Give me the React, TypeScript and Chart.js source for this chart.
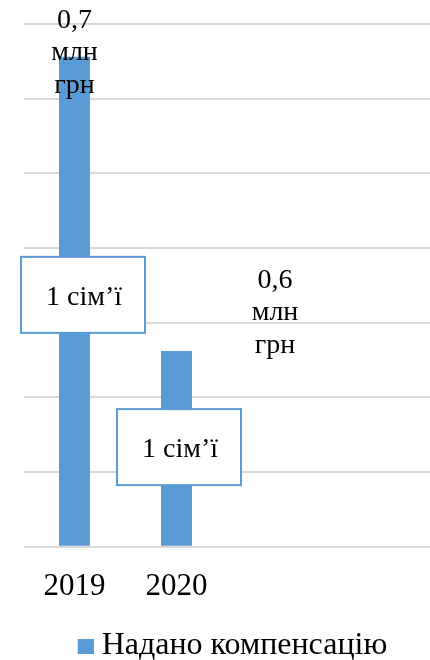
import React, { useEffect, useRef } from 'react';
import { Chart, registerables } from 'chart.js';

Chart.register(...registerables);

const categories = ['2019', '2020', '', ''];
const compensationValues = [0.656, 0.262, null, null];
const amountLabels = [
  ['0,7', 'млн', 'грн'],
  ['0,6', 'млн', 'грн'],
];
const familyLabels = ['1 сім’ї', '1 сім’ї'];
const seriesName = 'Надано компенсацію';
const yMin = 0;
const yMax = 0.7;
const yStep = 0.1;

const FONT = '"Liberation Serif", "DejaVu Serif", "Times New Roman", serif';
const BLUE = '#5b9bd5';

const labelPlugin = {
  id: 'customLabels',
  afterDatasetsDraw(chart: any) {
    const ctx = chart.ctx as CanvasRenderingContext2D;
    const meta = chart.getDatasetMeta(0);
    const amountOffsets = [
      { dx: 0, dy: -36.5 },
      { dx: 98.5, dy: -70.5 },
    ];
    const boxOffsets = [
      { dx: 8.5, dy: 238 },
      { dx: 2.5, dy: 96 },
    ];
    const boxW = 124;
    const boxH = 76;
    const lineGap = 32.5;
    ctx.save();
    familyLabels.forEach((text, i) => {
      const el = meta.data[i];
      if (!el) return;
      const cx = el.x + boxOffsets[i].dx;
      const cy = el.y + boxOffsets[i].dy;
      ctx.fillStyle = '#ffffff';
      ctx.fillRect(cx - boxW / 2, cy - boxH / 2, boxW, boxH);
      ctx.strokeStyle = BLUE;
      ctx.lineWidth = 2;
      ctx.strokeRect(cx - boxW / 2, cy - boxH / 2, boxW, boxH);
      ctx.fillStyle = '#000000';
      ctx.font = `28px ${FONT}`;
      ctx.textAlign = 'center';
      ctx.textBaseline = 'middle';
      ctx.fillText(text, cx + 1, cy + 3);
    });
    amountLabels.forEach((lines, i) => {
      const el = meta.data[i];
      if (!el) return;
      const cx = el.x + amountOffsets[i].dx;
      const cy = el.y + amountOffsets[i].dy;
      ctx.fillStyle = '#000000';
      ctx.font = `28px ${FONT}`;
      ctx.textAlign = 'center';
      ctx.textBaseline = 'middle';
      lines.forEach((line, j) => {
        ctx.fillText(line, cx, cy + j * lineGap);
      });
    });
    ctx.restore();
  },
};

function makeLegendMarker(): HTMLCanvasElement {
  // 34x16 canvas, blue square in its right part so that the gap to the text is small
  const c = document.createElement('canvas');
  c.width = 34;
  c.height = 16;
  const g = c.getContext('2d');
  if (g) {
    g.fillStyle = BLUE;
    g.fillRect(18, 1, 16, 15);
  }
  return c;
}

export default function App() {
  const canvasRef = useRef<HTMLCanvasElement | null>(null);

  useEffect(() => {
    let chart: Chart | null = null;
    let cancelled = false;
    const build = () => {
      if (cancelled || !canvasRef.current) return;
      const marker = makeLegendMarker();
      chart = new Chart(canvasRef.current, {
        type: 'bar',
        data: {
          labels: categories,
          datasets: [
            {
              label: seriesName,
              data: compensationValues,
              backgroundColor: BLUE,
              borderWidth: 0,
              categoryPercentage: 1,
              barPercentage: 0.304,
            },
          ],
        },
        options: {
          animation: false,
          responsive: false,
          devicePixelRatio: 1,
          layout: { padding: { left: 23.5, right: 0.5, top: 24, bottom: -12 } },
          scales: {
            x: {
              grid: { display: false },
              border: { display: false },
              ticks: {
                font: { family: FONT, size: 31 },
                color: '#000000',
                padding: 13,
                maxRotation: 0,
                autoSkip: false,
              },
              afterFit: (s: any) => {
                s.height = s.height + 8;
              },
            },
            y: {
              min: yMin,
              max: yMax,
              ticks: { display: false, stepSize: yStep },
              grid: { color: '#d9d9d9', lineWidth: 2, drawTicks: false },
              border: { display: false },
              afterFit: (s: any) => {
                s.width = 0;
              },
            },
          },
          plugins: {
            legend: {
              position: 'bottom',
              labels: {
                font: { family: FONT, size: 32 },
                color: '#000000',
                usePointStyle: true,
                pointStyle: marker as any,
                boxWidth: 18,
                boxHeight: 16,
                padding: 4,
              },
            },
            tooltip: { enabled: false },
          },
        },
        plugins: [labelPlugin],
      });
    };
    const fontsApi = (document as any).fonts;
    if (fontsApi && fontsApi.load) {
      Promise.all([
        fontsApi.load('28px "Liberation Serif"'),
        fontsApi.load('31px "Liberation Serif"'),
      ])
        .catch(() => undefined)
        .then(build);
    } else {
      build();
    }
    return () => {
      cancelled = true;
      if (chart) chart.destroy();
    };
  }, []);

  return (
    <div
      style={{
        position: 'fixed',
        left: 0,
        top: 0,
        width: 430,
        height: 660,
        overflow: 'hidden',
        background: '#ffffff',
      }}
    >
      <canvas ref={canvasRef} width={432} height={660} style={{ width: 432, height: 660, display: 'block' }} />
    </div>
  );
}
